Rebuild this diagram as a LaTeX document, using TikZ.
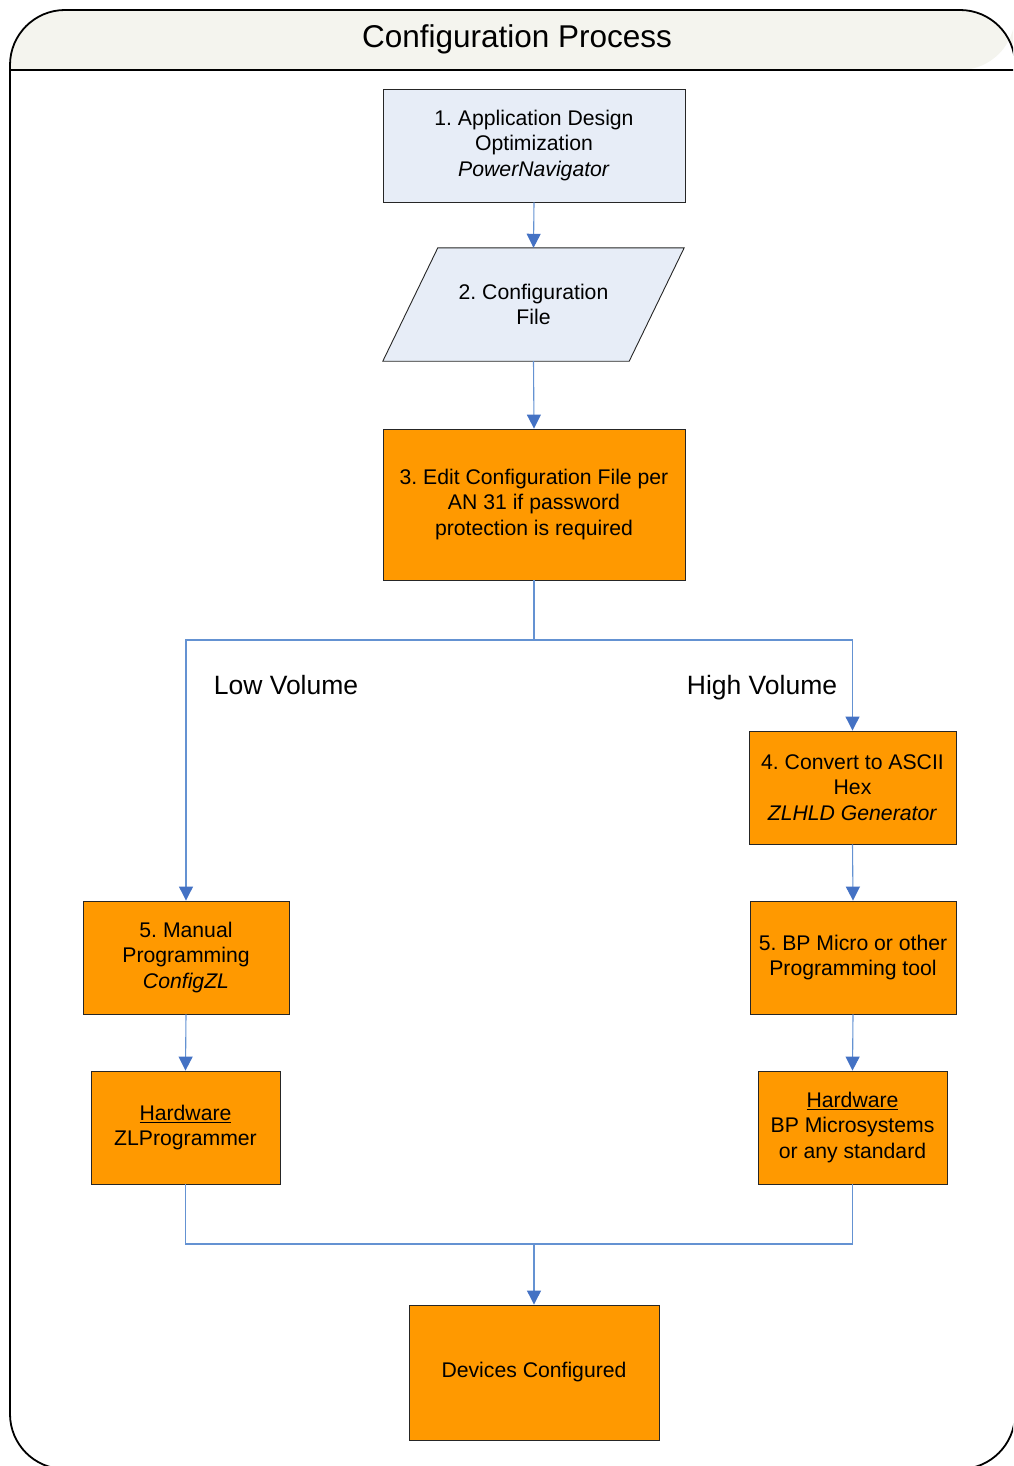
\documentclass[tikz,border=0pt]{standalone}
\usepackage{fontspec}
\setmainfont{Liberation Sans}
\usetikzlibrary{arrows.meta,calc}
\definecolor{boxblue}{RGB}{231,237,247}
\definecolor{boxorange}{RGB}{255,153,0}
\definecolor{linkblue}{RGB}{100,146,210}
\definecolor{tipblue}{RGB}{68,114,196}
\definecolor{titlefill}{RGB}{244,244,238}
\tikzset{
  boxtext/.style={font=\fontsize{21.2}{25.5}\selectfont, align=center, text=black},
  bluebox/.style={boxtext, draw=black!85, line width=0.9pt, fill=boxblue, inner sep=0pt},
  orangebox/.style={boxtext, draw=black!85, line width=0.9pt, fill=boxorange, inner sep=0pt},
  link/.style={draw=linkblue, line width=1.1pt},
  linkarrow/.style={link, -{Triangle[width=14pt,length=14pt,color=tipblue]}},
  branchlabel/.style={font=\fontsize{26.5}{31}\selectfont, text=black, anchor=base},
}
\frenchspacing
\begin{document}
\begin{tikzpicture}[x=1pt,y=-1pt]
\useasboundingbox (0,0) rectangle (1013,1466);
\begin{scope}
\clip (0,0) rectangle (1013,1466);
% frame
\fill[titlefill, rounded corners=55pt] (10,70) -- (10,10) -- (1015,10) -- (1015,70) [sharp corners]-- cycle;
\draw[black, line width=1.8pt, rounded corners=55pt] (10,1469) rectangle (1015,10);
\draw[black, line width=1.8pt] (10,70) -- (1015,70);
\end{scope}
\node[font=\fontsize{31.5}{36}\selectfont] (title) at (517,39) {Configuration Process};

% boxes
\node[bluebox, minimum width=302pt, minimum height=113pt] (b1) at (534,145.5)
  {1. Application Design\\Optimization\\\textit{PowerNavigator}};
\node[boxtext, minimum width=246pt, minimum height=113pt, inner sep=0pt] (b2) at (533.5,304.5)
  {};
\draw[draw=black!85, line width=0.9pt, fill=boxblue]
  ([xshift=27.5pt]b2.north west) -- ([xshift=27.5pt]b2.north east)
  -- ([xshift=-27.5pt]b2.south east) -- ([xshift=-27.5pt]b2.south west) -- cycle;
\node[boxtext] (b2text) at (b2.center) {2. Configuration\\File};
\node[orangebox, minimum width=302pt, minimum height=151pt] (b3) at (534,504.5)
  {3. Edit Configuration File per\\AN 31 if password\\protection is required};
\node[orangebox, minimum width=207pt, minimum height=113pt] (b4) at (852.5,787.5)
  {4. Convert to ASCII\\Hex\\\textit{ZLHLD Generator}};
\node[orangebox, minimum width=206pt, minimum height=113pt] (b5l) at (186,957.5)
  {5. Manual\\Programming\\\textit{ConfigZL}};
\node[orangebox, minimum width=206pt, minimum height=113pt] (b5r) at (853,957.5)
  {5. BP Micro or other\\Programming tool};
\node[orangebox, minimum width=189pt, minimum height=113pt] (hwl) at (185.5,1127.5)
  {\underline{Hardware}\\ZLProgrammer};
\node[orangebox, minimum width=189pt, minimum height=113pt] (hwr) at (852.5,1127.5)
  {\underline{Hardware}\\BP Microsystems\\or any standard};
\node[orangebox, minimum width=250pt, minimum height=135pt] (dev) at (534,1372.5)
  {Devices Configured};

% labels
\node[branchlabel] (low) at (286,694) {Low Volume};
\node[branchlabel] (high) at (762,694) {High Volume};

% connectors
\coordinate (split) at (534,640);
\coordinate (join) at (534,1244);
\draw[linkarrow] (b1.south) -- (b2.north);
\draw[linkarrow] (b2.south) -- (b3.north);
\draw[link] (b3.south) -- (split);
\draw[linkarrow] (split) -| (b4.north);
\draw[linkarrow] (split) -| (b5l.north);
\draw[linkarrow] (b4.south) -- (b5r.north);
\draw[linkarrow] (b5r.south) -- (hwr.north);
\draw[linkarrow] (b5l.south) -- (hwl.north);
\draw[link] (hwl.south) |- (join);
\draw[link] (hwr.south) |- (join);
\draw[linkarrow] (join) -- (dev.north);
\end{tikzpicture}
\end{document}
